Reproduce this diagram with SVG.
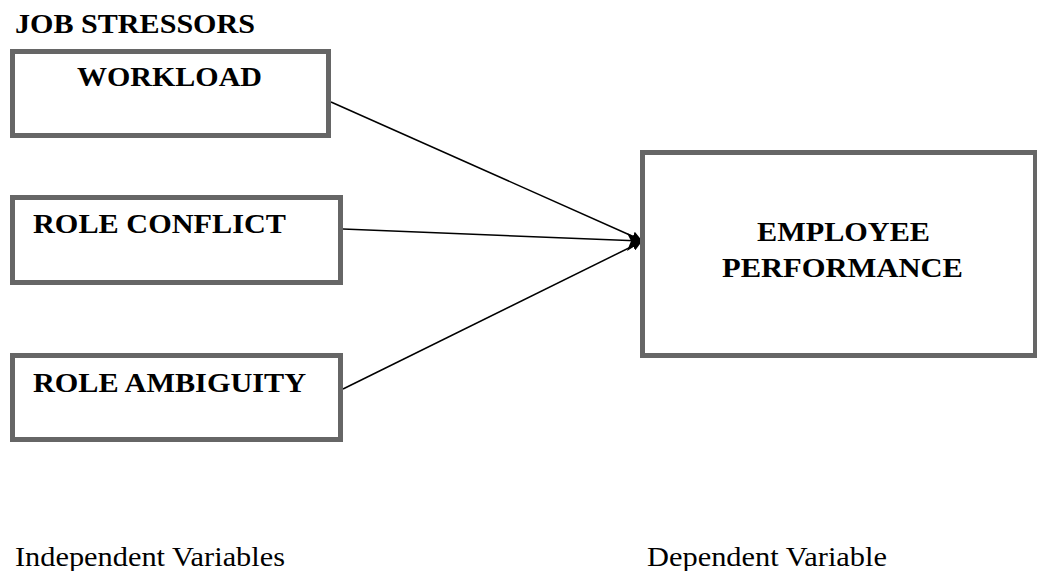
<svg xmlns="http://www.w3.org/2000/svg" width="1037" height="571" viewBox="0 0 1037 571">
<style>
.box{fill:#fff;stroke:#666;stroke-width:5}
.b{font-family:"Liberation Serif",serif;font-weight:bold;font-size:27px;fill:#000}
.r{font-family:"Liberation Serif",serif;font-size:27px;fill:#000}
.c{stroke:#000;stroke-width:1.5;fill:none}
</style>
<defs>
<marker id="ah" viewBox="0 0 10 10" refX="9" refY="5" markerWidth="10" markerHeight="10" markerUnits="userSpaceOnUse" orient="auto">
<path d="M0,0 L10,5 L0,10 z" fill="#000"/>
</marker>
</defs>
<rect width="1037" height="571" fill="#fff"/>
<text class="b" x="15" y="33" textLength="240" lengthAdjust="spacingAndGlyphs">JOB STRESSORS</text>
<g id="connectors">
<line class="c" x1="331" y1="102" x2="641" y2="240" marker-end="url(#ah)"/>
<line class="c" x1="343" y1="229" x2="641" y2="241" marker-end="url(#ah)"/>
<line class="c" x1="343" y1="389" x2="641" y2="242" marker-end="url(#ah)"/>
<path d="M627,233 L643,241 L627,251 L631,241 z" fill="#000"/>
</g>
<g id="workload">
<rect class="box" x="12.5" y="51.5" width="316" height="84"/>
<text class="b" x="77" y="86" textLength="185" lengthAdjust="spacingAndGlyphs">WORKLOAD</text>
</g>
<g id="role-conflict">
<rect class="box" x="12.5" y="197.5" width="328" height="85"/>
<text class="b" x="33" y="233" textLength="253" lengthAdjust="spacingAndGlyphs">ROLE CONFLICT</text>
</g>
<g id="role-ambiguity">
<rect class="box" x="12.5" y="355.5" width="328" height="84"/>
<text class="b" x="33" y="392" textLength="273" lengthAdjust="spacingAndGlyphs">ROLE AMBIGUITY</text>
</g>
<g id="employee-performance">
<rect class="box" x="642.5" y="152.5" width="393" height="203"/>
<text class="b" x="757" y="241" textLength="173" lengthAdjust="spacingAndGlyphs">EMPLOYEE</text>
<text class="b" x="722" y="277" textLength="241" lengthAdjust="spacingAndGlyphs">PERFORMANCE</text>
</g>
<text class="r" x="15" y="566" textLength="270" lengthAdjust="spacingAndGlyphs">Independent Variables</text>
<text class="r" x="647" y="566" textLength="240" lengthAdjust="spacingAndGlyphs">Dependent Variable</text>
</svg>
